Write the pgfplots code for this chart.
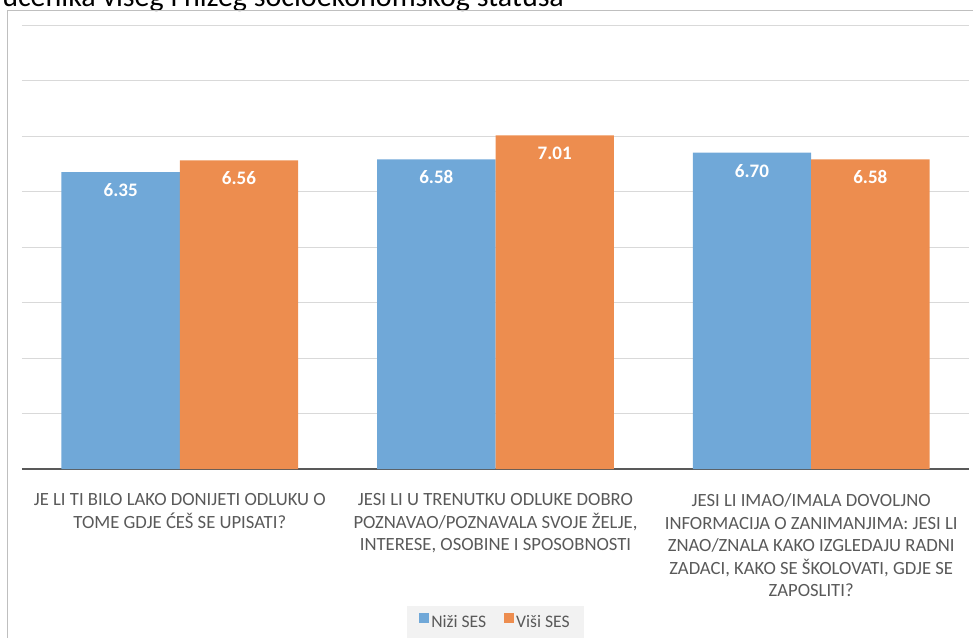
\documentclass[border=0pt]{standalone}
\usepackage{pgfplots}
\pgfplotsset{compat=1.18}
\usepackage{fontspec}
\setmainfont{Carlito}
\definecolor{sesblue}{RGB}{112,168,216}
\definecolor{sesorange}{RGB}{237,141,79}
\definecolor{labgray}{RGB}{89,89,89}
\definecolor{gridgray}{RGB}{217,217,217}
\definecolor{framegray}{RGB}{191,191,191}
\definecolor{leggray}{RGB}{242,242,242}
\begin{document}
\begin{tikzpicture}[x=0.75pt,y=0.75pt]
\node[anchor=base west, font=\fontsize{22.5}{26}\selectfont, inner sep=0pt, text=black] at (2,630) {učenika višeg i nižeg socioekonomskog statusa};
\draw[framegray, line width=0.75pt] (7.5,-20) -- (7.5,626.5) -- (1000,626.5);
\begin{axis}[
  at={(16.5pt,126pt)}, anchor=south west,
  scale only axis, width=710.25pt, height=333pt,
  xmin=-0.5, xmax=2.5, ymin=1, ymax=9,
  ybar=0pt, bar width=0.375,
  xtick={0,1,2},
  xticklabels={{JE LI TI BILO LAKO DONIJETI ODLUKU O\\TOME GDJE ĆEŠ SE UPISATI?},
               {JESI LI U TRENUTKU ODLUKE DOBRO\\POZNAVAO/POZNAVALA SVOJE ŽELJE,\\INTERESE, OSOBINE I SPOSOBNOSTI},
               {JESI LI IMAO/IMALA DOVOLJNO\\INFORMACIJA O ZANIMANJIMA: JESI LI\\ZNAO/ZNALA KAKO IZGLEDAJU RADNI\\ZADACI, KAKO SE ŠKOLOVATI, GDJE SE\\ZAPOSLITI?}},
  ytick={1,2,...,9}, yticklabels={},
  ymajorgrids, grid style={gridgray, line width=0.75pt},
  axis x line*=bottom, axis y line*=left,
  x axis line style={labgray, line width=1.1pt, -},
  y axis line style={draw=none},
  tick style={draw=none},
  xticklabel style={font=\fontsize{14}{16.9}\selectfont, text=labgray, align=center, yshift=-10.7pt},
  nodes near coords={\pgfmathprintnumber[fixed,zerofill,precision=2,assume math mode=true]{\pgfplotspointmeta}},
  every node near coord/.append style={anchor=center, yshift=-13.5pt, text=white, font=\fontsize{14.3}{16}\selectfont\bfseries},
  legend style={at={(0.5,-0.345)}, anchor=center, fill=leggray, draw=none,
     font=\fontsize{13.2}{15}\selectfont, text=labgray, inner xsep=9pt, inner ysep=5pt,
     /tikz/every even column/.append style={column sep=11pt}},
  legend columns=2,
  legend image code/.code={\fill[#1] (0pt,-0.5pt) rectangle (7.5pt,7pt);},
]
\addplot[fill=sesblue, draw=none] coordinates {(0,6.35) (1,6.58) (2,6.70)};
\addplot[fill=sesorange, draw=none] coordinates {(0,6.56) (1,7.01) (2,6.58)};
\legend{Niži SES, Viši SES}
\end{axis}
\pgfresetboundingbox
\useasboundingbox (0,0) rectangle (973,637);
\end{tikzpicture}
\end{document}
